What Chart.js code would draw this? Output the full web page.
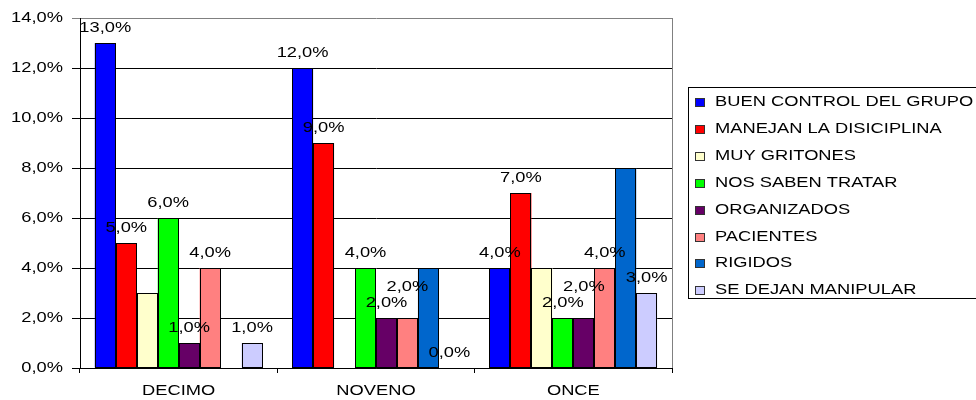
<!DOCTYPE html>
<html>
<head>
<meta charset="utf-8">
<script src="https://cdn.jsdelivr.net/npm/chart.js@4.4.1/dist/chart.umd.min.js"></script>
<style>
  html, body { margin: 0; padding: 0; background: #fff; }
  #wrap { width: 976px; height: 400px; position: relative; }
</style>
</head>
<body>
<div id="wrap"><canvas id="c" width="976" height="400"></canvas></div>
<script>
// ---- data ----
const categories = ['DECIMO', 'NOVENO', 'ONCE'];
const seriesNames = ['BUEN CONTROL DEL GRUPO', 'MANEJAN LA DISICIPLINA', 'MUY GRITONES', 'NOS SABEN TRATAR', 'ORGANIZADOS', 'PACIENTES', 'RIGIDOS', 'SE DEJAN MANIPULAR'];
const buenControl = [13, 12, 4];
const manejan = [5, 9, 7];
const muyGritones = [3, 0, 4];
const nosSaben = [6, 4, 2];
const organizados = [1, 2, 2];
const pacientes = [4, 2, 4];
const rigidos = [0, 4, 8];
const seDejan = [1, 0, 3];
const yMin = 0, yMax = 14, yStep = 2;
const labelledSeries = [true, true, false, true, true, true, false, true];

// ---- styles ----
const seriesColors = ['#0000FF', '#FF0000', '#FFFFCC', '#00FF00', '#660066', '#FF8080', '#0066CC', '#CCCCFF'];
const FONT_FAMILY = '"Liberation Sans", Arial, sans-serif';
const FONT_SIZE = 15;
const SX = 1.22; // horizontal text stretch seen in the reference

const seriesValues = [buenControl, manejan, muyGritones, nosSaben, organizados, pacientes, rigidos, seDejan];
const fmt = v => v.toFixed(1).replace('.', ',') + '%';

const canvas = document.getElementById('c');
const ctx = canvas.getContext('2d');
// stretch text horizontally around its anchor point
const nativeFill = CanvasRenderingContext2D.prototype.fillText;
ctx.fillText = function (text, x, y) {
  this.save();
  this.translate(x, y);
  this.scale(SX, 1);
  nativeFill.call(this, text, 0, 0);
  this.restore();
};

const datasets = seriesNames.map((name, i) => ({
  label: name,
  data: seriesValues[i],
  backgroundColor: seriesColors[i],
  borderWidth: 0,
  inflateAmount: 0,
  categoryPercentage: 0.85,
  barPercentage: 1.0
}));

const barOutlinesAndLabels = {
  id: 'barOutlinesAndLabels',
  afterDatasetsDraw(chart) {
    const c = chart.ctx;
    c.save();
    // crisp black outlines around every non-zero bar
    c.strokeStyle = '#000';
    c.lineWidth = 1;
    chart.data.datasets.forEach((ds, i) => {
      const meta = chart.getDatasetMeta(i);
      meta.data.forEach((bar, j) => {
        if (!ds.data[j]) return;
        const l = Math.round(bar.x - bar.width / 2) + 0.5;
        const r = Math.round(bar.x + bar.width / 2) - 0.5;
        const t = Math.round(bar.y) + 0.5;
        const b = Math.round(bar.base) - 0.5;
        c.strokeRect(l, t, r - l, b - t);
      });
    });
    // value labels
    c.font = FONT_SIZE + 'px ' + FONT_FAMILY;
    c.fillStyle = '#000';
    c.textAlign = 'center';
    c.textBaseline = 'alphabetic';
    const placed = [];
    chart.data.datasets.forEach((ds, i) => {
      if (!labelledSeries[i]) return;
      const meta = chart.getDatasetMeta(i);
      meta.data.forEach((bar, j) => {
        const txt = fmt(ds.data[j]);
        const w = c.measureText(txt).width * SX;
        let base = bar.y - 11;
        let rect;
        for (let k = 0; k < 6; k++) {
          rect = { l: bar.x - w / 2, r: bar.x + w / 2, t: base - 11, b: base };
          const hit = placed.some(p => rect.l < p.r && rect.r > p.l && rect.t < p.b && rect.b > p.t);
          if (!hit) break;
          base -= 16;
        }
        placed.push(rect);
        c.fillText(txt, bar.x, base);
      });
    });
    c.restore();
  }
};

const frameAndLegend = {
  id: 'frameAndLegend',
  afterDraw(chart) {
    const c = chart.ctx;
    const a = chart.chartArea;
    c.save();
    // right frame of plot area
    c.strokeStyle = '#808080';
    c.lineWidth = 1;
    c.beginPath();
    c.moveTo(Math.round(a.right) + 0.5, a.top);
    c.lineTo(Math.round(a.right) + 0.5, a.bottom);
    c.stroke();

    // legend box
    const bx = 688, by = 87, bw = 300, bh = 211;
    c.strokeStyle = '#000';
    c.strokeRect(bx + 0.5, by + 0.5, bw, bh);
    c.font = FONT_SIZE + 'px ' + FONT_FAMILY;
    c.textAlign = 'left';
    c.textBaseline = 'alphabetic';
    chart.data.datasets.forEach((ds, i) => {
      const baseY = 106 + 26.9 * i;
      const my = Math.round(baseY - 8);
      c.fillStyle = ds.backgroundColor;
      c.fillRect(695, my, 9, 8);
      c.strokeStyle = '#333';
      c.strokeRect(695.5, my + 0.5, 9, 8);
      c.fillStyle = '#000';
      c.fillText(ds.label, 715, baseY);
    });
    c.restore();
  }
};

new Chart(ctx, {
  type: 'bar',
  data: { labels: categories, datasets },
  plugins: [barOutlinesAndLabels, frameAndLegend],
  options: {
    responsive: false,
    animation: false,
    devicePixelRatio: 1,
    layout: { padding: { left: 0, right: 304, top: 17, bottom: 0 } },
    plugins: { legend: { display: false }, tooltip: { enabled: false }, title: { display: false } },
    scales: {
      x: {
        grid: { display: true, drawOnChartArea: false, drawTicks: true, tickLength: 5, color: '#000', offset: true },
        border: { display: true, color: '#000' },
        ticks: { color: '#000', font: { family: FONT_FAMILY, size: FONT_SIZE }, padding: 9, maxRotation: 0 },
        afterFit(scale) { scale.height = 32; }
      },
      y: {
        min: yMin, max: yMax,
        grid: {
          color: ctx2 => (ctx2.tick && ctx2.tick.value === yMax ? '#808080' : '#000'),
          tickLength: 8, drawTicks: true
        },
        border: { display: true, color: '#000' },
        ticks: {
          stepSize: yStep, color: '#000', padding: 9,
          font: { family: FONT_FAMILY, size: FONT_SIZE },
          callback: v => fmt(v)
        },
        afterFit(scale) { scale.width = 80; }
      }
    }
  }
});
</script>
</body>
</html>
